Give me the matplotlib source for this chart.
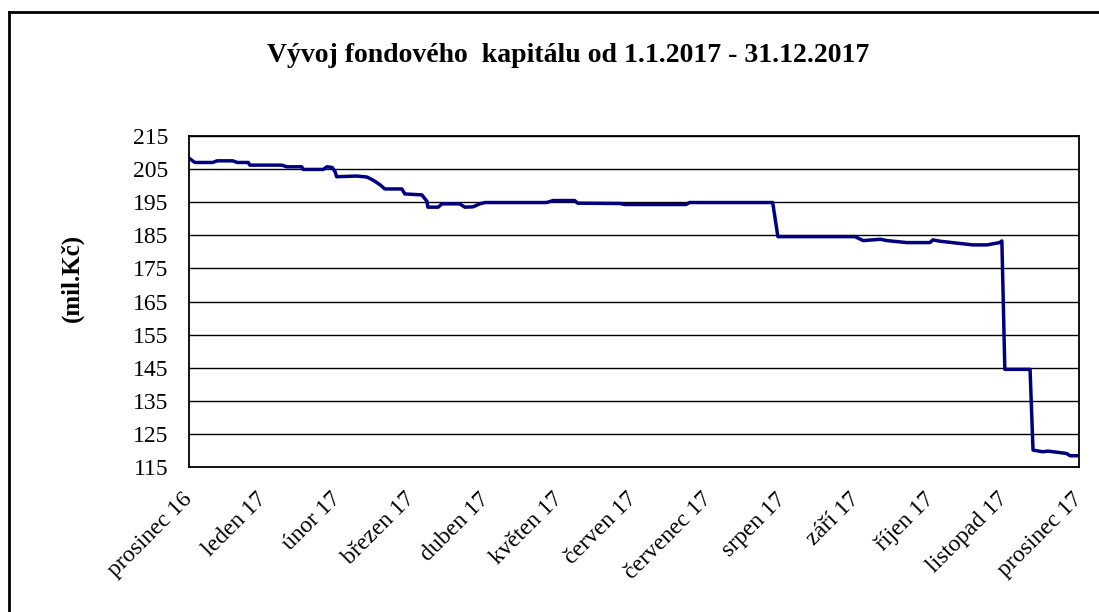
import numpy as np
import matplotlib
matplotlib.use("Agg")
import matplotlib.pyplot as plt
from matplotlib.lines import Line2D

# month labels on the category axis
months = ["prosinec 16", "leden 17", "únor 17", "březen 17", "duben 17",
          "květen 17", "červen 17", "červenec 17", "srpen 17", "září 17",
          "říjen 17", "listopad 17", "prosinec 17"]

# position along the axis in months (0 = prosinec 16) and value in mil. Kč
pos = [0.00, 0.08, 0.32, 0.38, 0.59, 0.65, 0.80, 0.82, 1.25, 1.32,
       1.52, 1.54, 1.81, 1.86, 1.93, 1.97, 1.99, 2.26, 2.40, 2.48,
       2.58, 2.64, 2.87, 2.91, 3.14, 3.21, 3.22, 3.36, 3.41, 3.65,
       3.72, 3.83, 3.92, 3.99, 4.82, 4.91, 5.20, 5.24, 5.81, 5.88,
       6.70, 6.75, 7.87, 7.94, 8.98, 9.09, 9.32, 9.41, 9.68, 9.99,
       10.03, 10.13, 10.57, 10.76, 10.93, 10.96, 11.00, 11.34, 11.38, 11.51,
       11.58, 11.83, 11.88, 12.00]
kapital = [208.3, 207.0, 207.0, 207.5, 207.5, 207.0, 207.0, 206.2, 206.2, 205.7,
           205.7, 204.9, 204.9, 205.7, 205.5, 204.2, 202.7, 202.9, 202.6, 201.7,
           200.2, 199.0, 199.0, 197.5, 197.2, 195.2, 193.5, 193.5, 194.5, 194.5,
           193.5, 193.6, 194.5, 194.9, 194.9, 195.5, 195.5, 194.7, 194.6, 194.3,
           194.3, 194.9, 194.9, 184.6, 184.6, 183.4, 183.8, 183.4, 182.8, 182.8,
           183.6, 183.2, 182.1, 182.1, 182.8, 183.3, 144.5, 144.5, 120.1, 119.6,
           119.8, 119.1, 118.4, 118.4]

yticks = list(range(115, 216, 10))

serif = ["Liberation Serif", "DejaVu Serif"]
plt.rcParams['font.family'] = serif

fig = plt.figure(figsize=(10.99, 6.12), dpi=100)
ax = fig.add_axes([189/1099, 1 - 467/612, 890/1099, 331/612])

ax.plot(pos, kapital, color="#000080", lw=2.5, solid_joinstyle="round")

ax.set_xlim(0, 12)
ax.set_ylim(115, 215)
ax.set_yticks(yticks)
ax.set_xticks(range(len(months)))
ax.set_xticklabels(months, rotation=45, ha="right", va="center",
                   rotation_mode="anchor", fontsize=17)
ax.tick_params(axis="y", length=0, pad=15, labelsize=17)
ax.tick_params(axis="x", length=0, pad=21)
ax.grid(axis="y", color="black", lw=1)
for sp in ax.spines.values():
    sp.set_linewidth(1.3)

fig.text(72/1099, 1 - 278/612, "(mil.Kč)", rotation=90, ha="center", va="center",
         fontsize=18, fontweight="bold")

fig.text(568/1099, 1 - 56/612, "Vývoj fondového  kapitálu od 1.1.2017 - 31.12.2017",
         ha="center", va="center", fontsize=20, fontweight="bold")

# frame on the left and top side of the picture
fig.add_artist(Line2D([9/1099, 9/1099], [0, 1 - 12/612], color="black", lw=2))
fig.add_artist(Line2D([9/1099, 1], [1 - 12/612, 1 - 12/612], color="black", lw=2))

fig.savefig("out.png", dpi=100)
